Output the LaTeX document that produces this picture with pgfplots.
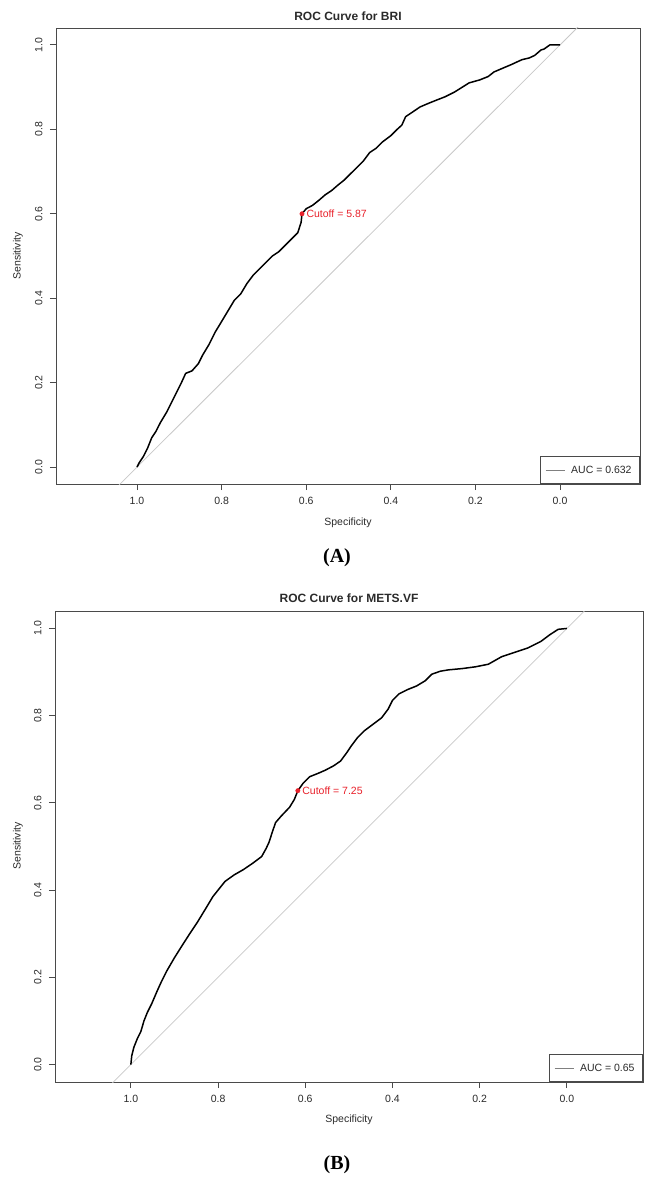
\documentclass[border=0pt]{standalone}
\usepackage{pgfplots}
\pgfplotsset{compat=1.18}
\usepackage{fontspec}
\setmainfont{Liberation Sans}
\newfontfamily\serifbf{Liberation Serif}
\definecolor{boxgray}{HTML}{4A4A4A}
\definecolor{txtgray}{HTML}{2A2A2A}
\definecolor{diaggray}{HTML}{C8C8C8}
\definecolor{leggray}{HTML}{808080}
\definecolor{cutred}{RGB}{232,32,42}

% ROC curve for BRI: specificity, sensitivity
\pgfplotstableread{
spec sens
1.000 0.000
0.995 0.010
0.985 0.025
0.975 0.045
0.965 0.070
0.955 0.085
0.945 0.105
0.930 0.130
0.920 0.150
0.905 0.180
0.895 0.200
0.885 0.222
0.870 0.228
0.855 0.245
0.845 0.265
0.830 0.290
0.815 0.320
0.800 0.345
0.785 0.370
0.770 0.395
0.755 0.410
0.740 0.435
0.725 0.455
0.710 0.470
0.695 0.485
0.680 0.500
0.665 0.510
0.650 0.525
0.635 0.540
0.620 0.555
0.612 0.580
0.610 0.600
0.600 0.612
0.585 0.620
0.570 0.632
0.555 0.645
0.540 0.655
0.525 0.668
0.510 0.680
0.495 0.695
0.480 0.710
0.465 0.725
0.450 0.745
0.435 0.755
0.420 0.770
0.400 0.785
0.385 0.800
0.374 0.810
0.365 0.830
0.350 0.840
0.331 0.853
0.310 0.862
0.290 0.870
0.272 0.877
0.250 0.888
0.234 0.898
0.215 0.910
0.190 0.917
0.170 0.925
0.156 0.936
0.135 0.945
0.116 0.953
0.090 0.965
0.073 0.969
0.060 0.975
0.045 0.988
0.038 0.990
0.024 1.000
0.000 1.000
}\rocbri

% ROC curve for METS.VF: specificity, sensitivity
\pgfplotstableread{
spec sens
1.000 0.000
0.998 0.020
0.993 0.040
0.985 0.060
0.977 0.076
0.970 0.100
0.962 0.120
0.952 0.140
0.940 0.168
0.930 0.190
0.918 0.214
0.900 0.245
0.883 0.272
0.865 0.300
0.847 0.327
0.830 0.355
0.812 0.385
0.800 0.400
0.784 0.420
0.763 0.435
0.742 0.447
0.720 0.462
0.700 0.477
0.690 0.495
0.683 0.510
0.675 0.535
0.668 0.555
0.655 0.570
0.636 0.590
0.625 0.608
0.617 0.628
0.605 0.645
0.590 0.660
0.570 0.668
0.554 0.675
0.535 0.685
0.519 0.696
0.505 0.715
0.495 0.730
0.480 0.750
0.465 0.765
0.445 0.780
0.425 0.795
0.410 0.815
0.400 0.835
0.385 0.850
0.365 0.860
0.345 0.868
0.325 0.880
0.310 0.895
0.290 0.902
0.272 0.905
0.240 0.908
0.210 0.912
0.180 0.918
0.150 0.935
0.120 0.945
0.090 0.955
0.060 0.970
0.040 0.985
0.020 0.998
0.000 1.000
}\rocmets

\pgfplotsset{
  rocaxis/.style={
    anchor=south west, scale only axis,
    x dir=reverse, ymin=-0.04, ymax=1.04,
    axis line style={boxgray, line width=0.8pt},
    xtick={0,0.2,0.4,0.6,0.8,1}, ytick={0,0.2,0.4,0.6,0.8,1},
    xtick pos=bottom, ytick pos=left,
    tick align=outside, major tick length=6pt,
    tick style={boxgray, line width=0.8pt},
    ticklabel style={font=\fontsize{10.5}{12}\selectfont, text=txtgray},
    /pgf/number format/.cd, fixed, fixed zerofill, precision=1, assume math mode=true,
    /pgfplots/.cd,
    xticklabel shift=4pt, yticklabel shift=4pt,
    yticklabel style={rotate=90, anchor=south},
    legend style={at={(1,0)}, anchor=south east, draw=boxgray, line width=0.8pt,
      font=\fontsize{10.5}{12}\selectfont, text=txtgray,
      inner xsep=5pt, inner ysep=6pt, nodes={inner sep=3pt},
      /tikz/every odd column/.style={column sep=3pt}},
    legend image code/.code={\draw[#1] (0pt,0pt) -- (19pt,0pt);},
    clip mode=individual,
  },
  curve/.style={black, line width=1.5pt, line join=round},
  diag/.style={diaggray, line width=0.8pt},
  cut/.style={only marks, mark=*, mark size=2.2pt, cutred,
    point meta=explicit symbolic, nodes near coords,
    every node near coord/.style={anchor=west, xshift=1pt, text=cutred,
      font=\fontsize{10.5}{12}\selectfont}},
}

\begin{document}
\begin{tikzpicture}[x=1pt, y=1pt]
\useasboundingbox (0,0) rectangle (646,-1177);

% Panel A
\begin{axis}[rocaxis, at={(56pt,-484pt)}, width=584pt, height=456pt,
  xmin=-0.189, xmax=1.1915]
  \addplot[diag, forget plot] coordinates {(1.2,-0.2) (-0.2,1.2)};
  \addplot[curve, forget plot] table[x=spec, y=sens] {\rocbri};
  \addplot[cut, forget plot] coordinates {(0.61,0.60) [Cutoff = 5.87]};
  \addlegendimage{leggray, line width=0.9pt}
  \addlegendentry{AUC = 0.632}
\end{axis}
\node[font=\bfseries\fontsize{12}{14}\selectfont, text=txtgray] at (348,-16) {ROC Curve for BRI};
\node[font=\fontsize{10.5}{12}\selectfont, text=txtgray] at (348,-523) {Specificity};
\node[font=\fontsize{10.5}{12}\selectfont, text=txtgray, rotate=90] at (18,-256) {Sensitivity};
\node[font=\serifbf\bfseries\fontsize{20}{22}\selectfont] at (337,-558) {(A)};

% Panel B
\begin{axis}[rocaxis, at={(55pt,-1082pt)}, width=588pt, height=471pt,
  xmin=-0.1746, xmax=1.174]
  \addplot[diag, forget plot] coordinates {(1.2,-0.2) (-0.2,1.2)};
  \addplot[curve, forget plot] table[x=spec, y=sens] {\rocmets};
  \addplot[cut, forget plot] coordinates {(0.617,0.628) [Cutoff = 7.25]};
  \addlegendimage{leggray, line width=0.9pt}
  \addlegendentry{AUC = 0.65}
\end{axis}
\node[font=\bfseries\fontsize{12}{14}\selectfont, text=txtgray] at (349,-598) {ROC Curve for METS.VF};
\node[font=\fontsize{10.5}{12}\selectfont, text=txtgray] at (349,-1120) {Specificity};
\node[font=\fontsize{10.5}{12}\selectfont, text=txtgray, rotate=90] at (18,-846) {Sensitivity};
\node[font=\serifbf\bfseries\fontsize{20}{22}\selectfont] at (337,-1165) {(B)};
\end{tikzpicture}
\end{document}
